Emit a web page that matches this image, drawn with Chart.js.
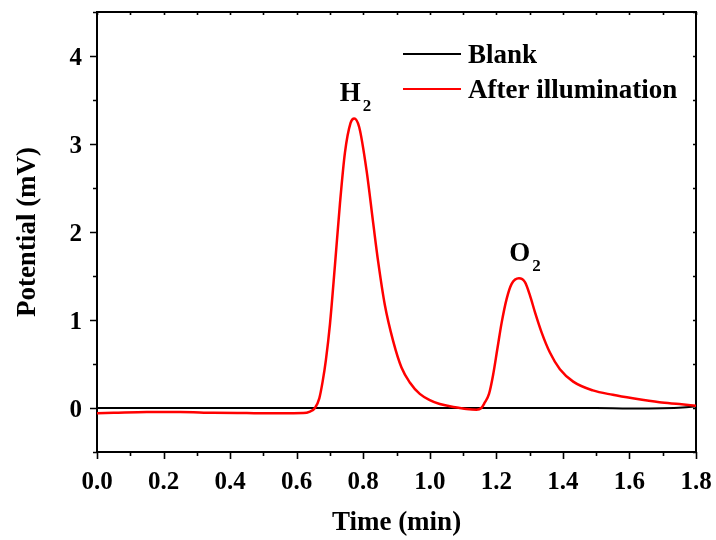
<!DOCTYPE html>
<html>
<head>
<meta charset="utf-8">
<script src="https://cdn.jsdelivr.net/npm/chart.js@4/dist/chart.umd.min.js"></script>
<style>
  html, body { margin: 0; padding: 0; background: #fff; }
</style>
</head>
<body>
<canvas id="c" width="716" height="540"></canvas>
<script>
// Gas chromatogram: detector potential vs. retention time
const blankTime = [0, 0.3, 0.6, 0.9, 1.2, 1.5, 1.6, 1.7, 1.76, 1.8];
const blankPotential = [0, 0, 0, 0, 0, 0, -0.005, -0.003, 0.005, 0.02];

const illumTime = [0, 0.05, 0.15, 0.25, 0.35, 0.45, 0.55, 0.62, 0.64, 0.655, 0.668, 0.678, 0.688, 0.70,
  0.715, 0.73, 0.745, 0.762, 0.773, 0.788, 0.81, 0.83, 0.845, 0.865, 0.89, 0.915, 0.94, 0.97, 1.0,
  1.03, 1.06, 1.09, 1.11, 1.14, 1.155, 1.165, 1.178, 1.19, 1.203, 1.216, 1.231, 1.246, 1.268, 1.286,
  1.301, 1.316, 1.336, 1.361, 1.391, 1.431, 1.49, 1.55, 1.61, 1.69, 1.75, 1.8];
const illumPotential = [-0.06, -0.055, -0.045, -0.045, -0.055, -0.058, -0.06, -0.058, -0.04, 0.0, 0.11,
  0.30, 0.55, 0.95, 1.62, 2.32, 2.90, 3.24, 3.29, 3.19, 2.70, 2.10, 1.66, 1.17, 0.76, 0.46, 0.29,
  0.16, 0.09, 0.045, 0.02, 0.0, -0.012, -0.02, 0.0, 0.06, 0.16, 0.37, 0.67, 0.97, 1.24, 1.41, 1.474,
  1.43, 1.28, 1.09, 0.86, 0.63, 0.44, 0.30, 0.20, 0.15, 0.11, 0.065, 0.045, 0.026];

const seriesNames = ['Blank', 'After illumination'];
const seriesColors = ['#000000', '#ff0000'];

const xTickLabels = ['0.0', '0.2', '0.4', '0.6', '0.8', '1.0', '1.2', '1.4', '1.6', '1.8'];
const yTickLabels = ['0', '1', '2', '3', '4'];

// Peak labels (species, subscript, label centre time, peak height)
const peakNames = ['H', 'O'];
const peakSubs = ['2', '2'];
const peakLabelTimes = [0.777, 1.286];
const peakHeights = [3.29, 1.474];

const FONT = "'Liberation Serif', 'Times New Roman', serif";

function toPoints(xs, ys) { return xs.map((x, i) => ({ x: x, y: ys[i] })); }
function labelFor(list, v) {
  const hit = list.find(l => Math.abs(parseFloat(l) - v) < 1e-6);
  return hit === undefined ? '' : hit;
}

// Box frame with outward ticks on bottom/left and short inward ticks on top/right
const framePlugin = {
  id: 'frame',
  beforeDatasetsDraw(chart) {
    const { ctx, chartArea: a, scales: { x, y } } = chart;
    ctx.save();
    ctx.strokeStyle = '#000';
    ctx.lineWidth = 2;
    ctx.strokeRect(a.left, a.top, a.right - a.left, a.bottom - a.top);
    ctx.lineWidth = 1.6;
    ctx.beginPath();
    for (let i = 0; i <= 18; i++) {
      const px = Math.round(x.getPixelForValue(i / 10)) + 0.5;
      const major = i % 2 === 0;
      ctx.moveTo(px, a.bottom); ctx.lineTo(px, a.bottom + (major ? 7 : 4));
      ctx.moveTo(px, a.top); ctx.lineTo(px, a.top + 3);
    }
    for (let j = -1; j <= 9; j++) {
      const v = j / 2;
      const py = Math.round(y.getPixelForValue(v)) + 0.5;
      const major = j % 2 === 0;
      ctx.moveTo(a.left, py); ctx.lineTo(a.left - (major ? 7 : 4), py);
      ctx.moveTo(a.right, py); ctx.lineTo(a.right - 3, py);
    }
    ctx.stroke();

    // y tick labels, vertically centred on the digit glyphs
    ctx.fillStyle = '#000';
    ctx.font = 'bold 25px ' + FONT;
    ctx.textAlign = 'right';
    ctx.textBaseline = 'alphabetic';
    yTickLabels.forEach(l => {
      const py = y.getPixelForValue(parseFloat(l));
      ctx.fillText(l, a.left - 15, py + 8.5);
    });
    ctx.restore();
  },
  afterDraw(chart) {
    const { ctx, scales: { x, y } } = chart;
    ctx.save();
    ctx.fillStyle = '#000';
    ctx.textBaseline = 'alphabetic';
    // peak labels
    peakNames.forEach((n, i) => {
      const px = x.getPixelForValue(peakLabelTimes[i]);
      const py = y.getPixelForValue(peakHeights[i]) - 17;
      ctx.font = 'bold 27px ' + FONT;
      const w = ctx.measureText(n).width;
      ctx.font = 'bold 17px ' + FONT;
      const ws = ctx.measureText(peakSubs[i]).width;
      const start = px - (w + ws + 2) / 2;
      ctx.font = 'bold 27px ' + FONT;
      ctx.fillText(n, start, py);
      ctx.font = 'bold 17px ' + FONT;
      ctx.fillText(peakSubs[i], start + w + 2, py + 10);
    });
    // legend
    ctx.font = 'bold 27px ' + FONT;
    seriesNames.forEach((name, i) => {
      const ly = 54 + i * 35;
      ctx.strokeStyle = seriesColors[i];
      ctx.lineWidth = 2;
      ctx.beginPath();
      ctx.moveTo(403, ly); ctx.lineTo(461, ly);
      ctx.stroke();
      ctx.fillText(name, 468, ly + 9);
    });
    ctx.restore();
  }
};

new Chart(document.getElementById('c'), {
  type: 'line',
  data: {
    datasets: [
      {
        label: seriesNames[0],
        data: toPoints(blankTime, blankPotential),
        borderColor: seriesColors[0],
        borderWidth: 2,
        pointRadius: 0,
        fill: false,
        cubicInterpolationMode: 'monotone',
        order: 2
      },
      {
        label: seriesNames[1],
        data: toPoints(illumTime, illumPotential),
        borderColor: seriesColors[1],
        borderWidth: 2.5,
        pointRadius: 0,
        fill: false,
        cubicInterpolationMode: 'monotone',
        order: 1
      }
    ]
  },
  options: {
    responsive: false,
    animation: false,
    events: [],
    layout: { padding: { top: 12, right: 20, left: 0, bottom: 0 } },
    plugins: { legend: { display: false }, tooltip: { enabled: false } },
    scales: {
      x: {
        type: 'linear', min: 0, max: 1.8,
        afterFit(s) { s.height = 88; s.paddingLeft = 0; s.paddingRight = 0; },
        grid: { display: false, drawTicks: false },
        border: { display: false },
        ticks: {
          stepSize: 0.2, autoSkip: false, maxRotation: 0, padding: 16,
          color: '#000', font: { family: FONT, size: 25, weight: 'bold' },
          callback: v => labelFor(xTickLabels, v)
        },
        title: {
          display: true, text: 'Time (min)', color: '#000',
          font: { family: FONT, size: 27, weight: 'bold' },
          padding: { top: 0, bottom: 1 }
        }
      },
      y: {
        type: 'linear', min: -0.5, max: 4.5,
        afterFit(s) { s.width = 97; s.paddingTop = 0; s.paddingBottom = 0; },
        grid: { display: false, drawTicks: false },
        border: { display: false },
        ticks: { display: false, stepSize: 0.5 },
        title: {
          display: true, text: 'Potential (mV)', color: '#000',
          font: { family: FONT, size: 27, weight: 'bold' },
          padding: { top: 12, bottom: 0 }
        }
      }
    }
  },
  plugins: [framePlugin]
});
</script>
</body>
</html>
